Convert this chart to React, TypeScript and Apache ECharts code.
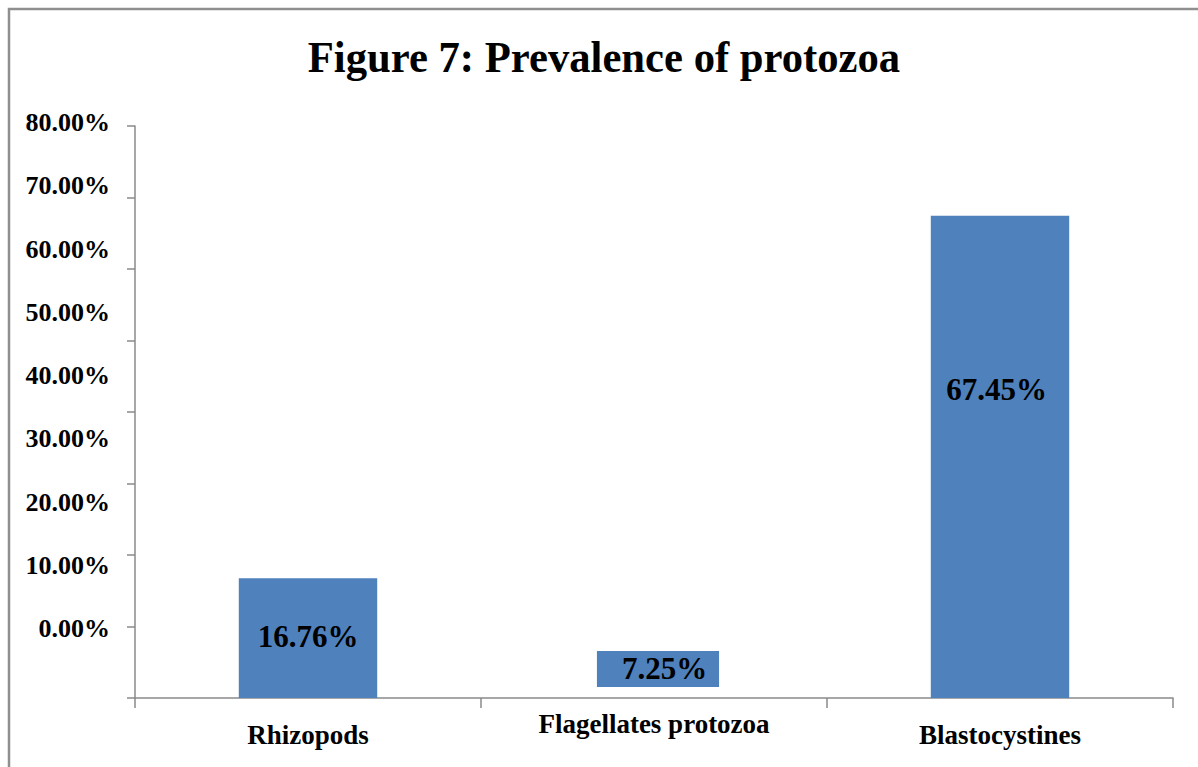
import React, { useEffect, useRef } from "react";
import * as echarts from "echarts";

// ---- data ----
const titleText = "Figure 7: Prevalence of protozoa";
const categories = ["Rhizopods", "Flagellates protozoa", "Blastocystines"];
const prevalence = [16.76, 7.25, 67.45]; // printed values (%)
const barBottom = [0, 1.54, 0]; // where each drawn bar starts (%)
const barTop = [16.76, 6.57, 67.45]; // where each drawn bar ends (%)
const yTickValues = [0, 10, 20, 30, 40, 50, 60, 70, 80];

// ---- layout / style (not data) ----
const barWidthRatio = [0.4, 0.353, 0.4];
const barShiftX = [0, 4, 0];
const labelAtValue = [8.67, 4.06, 43.08];
const labelShiftX = [0, 10.5, -3.5];
const FONT = '"Liberation Serif", "Times New Roman", serif';
const AXIS_COLOR = "#8a8a8a";

export default function App() {
  const ref = useRef<HTMLDivElement>(null);
  useEffect(() => {
    if (!ref.current) return;
    const chart = echarts.init(ref.current, null, { renderer: "svg" });
    const seriesData = categories.map((c, i) => [i, barBottom[i], barTop[i], prevalence[i]]);
    chart.setOption({
      animation: false,
      backgroundColor: "#ffffff",
      graphic: [
        {
          type: "rect",
          shape: { x: 9, y: 9, width: 1400, height: 1000 },
          style: { fill: "none", stroke: "#8f8f8f", lineWidth: 2.5 },
          silent: true,
        },
        {
          type: "text",
          x: 604,
          y: 57,
          scaleX: 0.97,
          style: {
            text: titleText,
            fontFamily: FONT,
            fontWeight: "bold",
            fontSize: 44,
            fill: "#000",
            align: "center",
            verticalAlign: "middle",
          },
          silent: true,
        },
      ],
      grid: [
        { left: 135, right: 25, top: 126, bottom: 69 },
        { left: 135, right: 25, top: 122.5, height: 506 },
      ],
      xAxis: [
        {
          type: "category",
          gridIndex: 0,
          data: categories.map((c, i) => ({
            value: c,
            textStyle: i === 1 ? {} : { padding: [11, 0, 0, 0] },
          })),
          boundaryGap: true,
          axisLine: { lineStyle: { color: AXIS_COLOR, width: 1.5 } },
          axisTick: { show: true, length: 10, lineStyle: { color: AXIS_COLOR, width: 1.5 } },
          axisLabel: {
            margin: 12,
            fontFamily: FONT,
            fontWeight: "bold",
            fontSize: 27,
            color: "#000",
          },
          splitLine: { show: false },
        },
        { type: "category", gridIndex: 1, data: categories, show: false },
      ],
      yAxis: [
        {
          type: "value",
          gridIndex: 0,
          min: 0,
          max: 80,
          interval: 10,
          axisLine: { show: true, lineStyle: { color: AXIS_COLOR, width: 1.5 } },
          axisTick: { show: true, length: 8, lineStyle: { color: AXIS_COLOR, width: 1.5 } },
          axisLabel: { show: false },
          splitLine: { show: false },
        },
        {
          type: "value",
          gridIndex: 1,
          min: yTickValues[0],
          max: yTickValues[yTickValues.length - 1],
          interval: 10,
          axisLine: { show: false },
          axisTick: { show: false },
          splitLine: { show: false },
          axisLabel: {
            margin: 25,
            fontFamily: FONT,
            fontWeight: "bold",
            fontSize: 26,
            color: "#000",
            formatter: (v: number) => v.toFixed(2) + "%",
          },
        },
      ],
      series: [
        {
          type: "custom",
          xAxisIndex: 0,
          yAxisIndex: 0,
          data: seriesData,
          encode: { x: 0, y: [1, 2] },
          renderItem: (params: any, api: any) => {
            const i = api.value(0);
            const lo = api.coord([i, api.value(1)]);
            const hi = api.coord([i, api.value(2)]);
            const band = api.size([1, 0])[0];
            const w = band * barWidthRatio[i];
            const cx = lo[0] + barShiftX[i];
            const ly = api.coord([i, labelAtValue[i]])[1];
            return {
              type: "group",
              children: [
                {
                  type: "rect",
                  shape: { x: cx - w / 2, y: hi[1], width: w, height: lo[1] - hi[1] },
                  style: { fill: "#4F81BD" },
                },
                {
                  type: "text",
                  x: lo[0] + labelShiftX[i],
                  y: ly,
                  style: {
                    text: api.value(3).toFixed(2) + "%",
                    fontFamily: FONT,
                    fontWeight: "bold",
                    fontSize: 31,
                    fill: "#000",
                    align: "center",
                    verticalAlign: "middle",
                    textAlign: "center",
                    textVerticalAlign: "middle",
                  },
                },
              ],
            };
          },
        },
      ],
    });
    return () => chart.dispose();
  }, []);
  return (
    <div
      ref={ref}
      style={{ position: "fixed", left: 0, top: 0, width: 1198, height: 767 }}
    />
  );
}
